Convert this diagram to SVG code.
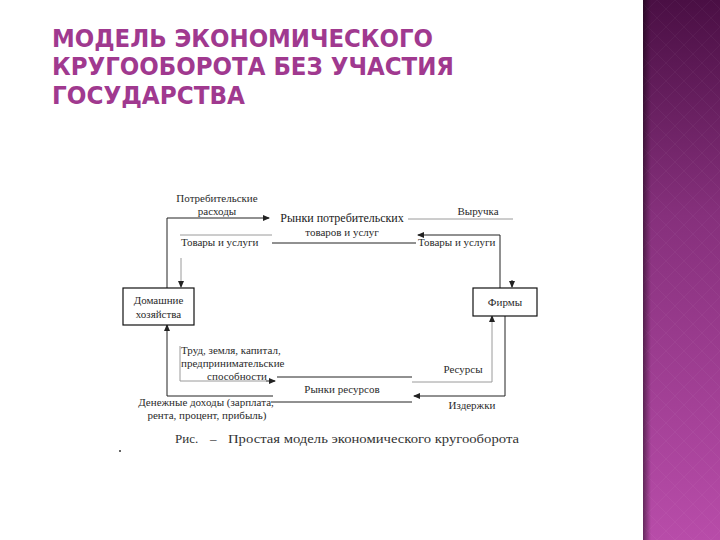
<svg xmlns="http://www.w3.org/2000/svg" width="720" height="540" viewBox="0 0 720 540">
<defs>
<linearGradient id="bar" x1="0" y1="0" x2="0" y2="1">
<stop offset="0" stop-color="#4a0f44"/>
<stop offset="0.4" stop-color="#86307c"/>
<stop offset="1" stop-color="#b84ca9"/>
</linearGradient>
<linearGradient id="shade" x1="0" y1="0" x2="1" y2="0">
<stop offset="0" stop-color="#000" stop-opacity="0.45"/>
<stop offset="1" stop-color="#000" stop-opacity="0"/>
</linearGradient>
<pattern id="dia" width="18" height="18" patternUnits="userSpaceOnUse">
<path d="M9 0 L18 9 L9 18 L0 9 Z" fill="none" stroke="#ffffff" stroke-opacity="0.035" stroke-width="1"/>
</pattern>
<marker id="ah" markerWidth="7" markerHeight="6" refX="6" refY="3" orient="auto" markerUnits="userSpaceOnUse">
<path d="M0 0 L7 3 L0 6 Z" fill="#222"/>
</marker>
<style>
.title{font-family:"DejaVu Sans","Open Sans",sans-serif;font-weight:bold;font-size:24px;fill:#a0398f}
.t{font-family:"Liberation Serif","Times New Roman",serif;font-size:11px;fill:#2a2a2a}
.tl{font-family:"Liberation Serif","Times New Roman",serif;font-size:12px;fill:#1a1a1a}
.cap{font-family:"Liberation Serif","Times New Roman",serif;font-size:13px;fill:#333}
.box{fill:#fff;stroke:#111;stroke-width:1.2}
.dk{fill:none;stroke:#222;stroke-width:1}
.gr{fill:none;stroke:#9a9a9a;stroke-width:1}
</style>
</defs>
<rect width="720" height="540" fill="#fff"/>
<g id="sidebar">
<rect x="643" y="0" width="77" height="540" fill="url(#bar)"/>
<rect x="643" y="0" width="77" height="540" fill="url(#dia)"/>
<rect x="643" y="0" width="8" height="540" fill="url(#shade)"/>
</g>
<g id="title">
<text class="title" x="52" y="47" textLength="381" lengthAdjust="spacingAndGlyphs">МОДЕЛЬ ЭКОНОМИЧЕСКОГО</text>
<text class="title" x="52" y="75" textLength="402" lengthAdjust="spacingAndGlyphs">КРУГООБОРОТА БЕЗ УЧАСТИЯ</text>
<text class="title" x="52" y="104" textLength="193" lengthAdjust="spacingAndGlyphs">ГОСУДАРСТВА</text>
</g>
<g id="connectors">
<polyline class="dk" points="167,288 167,218 269,218" marker-end="url(#ah)"/>
<line class="gr" x1="180" y1="235" x2="272" y2="235"/>
<line class="dk" x1="272" y1="243" x2="416" y2="243"/>
<line class="gr" x1="181" y1="258" x2="181" y2="287" marker-end="url(#ah)"/>
<line class="gr" x1="408" y1="219" x2="513" y2="219"/>
<line class="dk" x1="512" y1="280" x2="512" y2="287" marker-end="url(#ah)"/>
<polyline class="dk" points="500,288 500,235 418,235" marker-end="url(#ah)"/>
<polyline class="gr" points="412,382 492,382 492,316" marker-end="url(#ah)"/>
<polyline class="dk" points="505,316 505,396 414,396" marker-end="url(#ah)"/>
<line class="dk" x1="277" y1="377" x2="412" y2="377"/>
<line class="dk" x1="271" y1="402" x2="412" y2="402"/>
<polyline class="dk" points="273,396 167,396 167,325" marker-end="url(#ah)"/>
<polyline class="gr" points="180,346 180,381 266,381"/>
<line class="dk" x1="266" y1="381" x2="275" y2="381" marker-end="url(#ah)"/>
</g>
<g id="households">
<rect class="box" x="123" y="288" width="71" height="37"/>
<text class="t" x="158.5" y="304" text-anchor="middle">Домашние</text>
<text class="t" x="158.5" y="318" text-anchor="middle">хозяйства</text>
</g>
<g id="firms">
<rect class="box" x="473" y="288" width="64" height="28"/>
<text class="t" x="505" y="306" text-anchor="middle">Фирмы</text>
</g>
<g id="consumer-market">
<text class="tl" x="342" y="222" text-anchor="middle">Рынки потребительских</text>
<text class="t" x="342" y="236" text-anchor="middle">товаров и услуг</text>
</g>
<g id="resource-market">
<text class="t" x="342" y="393" text-anchor="middle">Рынки ресурсов</text>
</g>
<g id="labels">
<text class="t" x="217" y="202" text-anchor="middle">Потребительские</text>
<text class="t" x="217" y="215" text-anchor="middle">расходы</text>
<text class="t" x="181" y="246">Товары и услуги</text>
<text class="t" x="418" y="246">Товары и услуги</text>
<text class="t" x="478" y="215" text-anchor="middle">Выручка</text>
<text class="t" x="181" y="354">Труд, земля, капитал,</text>
<text class="t" x="181" y="367">предпринимательские</text>
<text class="t" x="237" y="380" text-anchor="middle">способности</text>
<text class="t" x="463" y="373" text-anchor="middle">Ресурсы</text>
<text class="t" x="472" y="409" text-anchor="middle">Издержки</text>
<text class="t" x="206" y="406" text-anchor="middle">Денежные доходы (зарплата,</text>
<text class="t" x="207" y="419" text-anchor="middle">рента, процент, прибыль)</text>
</g>
<g id="caption">
<text class="cap" x="175" y="443">Рис.</text>
<text class="cap" x="210" y="443" fill="#aaa">–</text>
<text class="cap" x="228" y="443" textLength="291" lengthAdjust="spacingAndGlyphs">Простая модель экономического кругооборота</text>
<circle cx="120" cy="451" r="1" fill="#333"/>
</g>
</svg>
